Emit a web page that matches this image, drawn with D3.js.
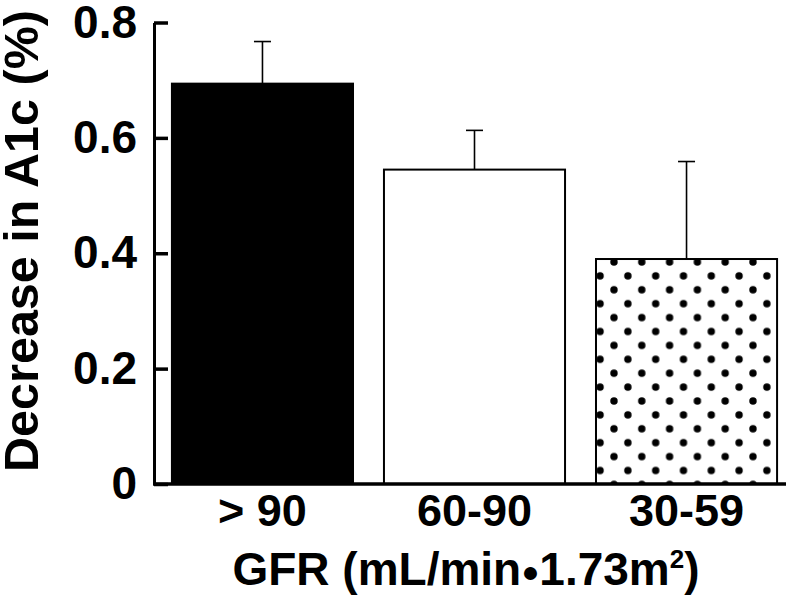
<!DOCTYPE html>
<html>
<head>
<meta charset="utf-8">
<script src="https://cdn.jsdelivr.net/npm/d3@7.9.0/dist/d3.min.js"></script>
<style>
    body { margin: 0; background: #fff; }
    svg { display: block; font-family: "Liberation Sans", Arial, sans-serif; font-weight: bold; }
</style>
</head>
<body>
<div id="chart"></div>
<script>
// Data
const categories = ['> 90', '60-90', '30-59'];
const means = [0.694, 0.545, 0.39];
const errors = [0.073, 0.068, 0.169];
const yTicks = [0, 0.2, 0.4, 0.6, 0.8];

const fills = ['#000', '#fff', 'url(#dots)'];

const width = 800;
const height = 606;

const svg = d3.select('#chart')
    .append('svg')
    .attr('width', width)
    .attr('height', height);

// Dotted fill for the last bar
const pattern = svg.append('defs')
    .append('pattern')
    .attr('id', 'dots')
    .attr('patternUnits', 'userSpaceOnUse')
    .attr('x', 614)
    .attr('y', 262)
    .attr('width', 27.8)
    .attr('height', 27.8);
pattern.append('rect').attr('width', 27.8).attr('height', 27.8).attr('fill', '#fff');
[[0, 0], [27.8, 0], [0, 27.8], [27.8, 27.8], [13.9, 13.9]].forEach(([cx, cy]) => {
    pattern.append('circle').attr('cx', cx).attr('cy', cy).attr('r', 3.7).attr('fill', '#000');
});

// Scales
const x = d3.scaleBand()
    .domain(categories)
    .range([152, 797])
    .paddingInner(0.146)
    .paddingOuter(0.094);

const y = d3.scaleLinear()
    .domain([0, 0.8])
    .range([484, 22.5]);

const rows = categories.map((c, i) => ({ cat: c, mean: means[i], err: errors[i], fill: fills[i] }));

// Bars
svg.append('g')
    .selectAll('rect')
    .data(rows)
    .join('rect')
    .attr('x', (d) => x(d.cat))
    .attr('y', (d) => y(d.mean))
    .attr('width', x.bandwidth())
    .attr('height', (d) => y(0) - y(d.mean))
    .attr('fill', (d) => d.fill)
    .attr('stroke', '#000')
    .attr('stroke-width', 2);

// Error bars (upper only)
const eb = svg.append('g')
    .attr('stroke', '#000')
    .attr('stroke-width', 1.6)
    .selectAll('g')
    .data(rows)
    .join('g')
    .attr('transform', (d) => `translate(${x(d.cat) + x.bandwidth() / 2},0)`);

eb.append('line')
    .attr('y1', (d) => y(d.mean))
    .attr('y2', (d) => y(d.mean + d.err));

eb.append('line')
    .attr('x1', -8.5)
    .attr('x2', 8.5)
    .attr('y1', (d) => y(d.mean + d.err))
    .attr('y2', (d) => y(d.mean + d.err));

// Y axis
const yAxis = svg.append('g')
    .attr('transform', 'translate(154,0)')
    .call(d3.axisLeft(y)
        .tickValues(yTicks)
        .tickSizeInner(-14)
        .tickSizeOuter(0)
        .tickPadding(17)
        .tickFormat((d) => (d === 0 ? '0' : d3.format('.1f')(d))));

yAxis.select('.domain').attr('stroke-width', 3);
yAxis.selectAll('.tick line').attr('stroke-width', 3.5);
yAxis.selectAll('.tick text')
    .attr('font-size', 46)
    .attr('font-family', '"Liberation Sans", Arial, sans-serif')
    .attr('font-weight', 'bold')
    .attr('fill', '#000');

// X axis
const xAxis = svg.append('g')
    .attr('transform', `translate(0,${y(0)})`)
    .call(d3.axisBottom(x).tickSize(0).tickPadding(10));

xAxis.select('.domain').remove();
xAxis.append('line')
    .attr('x1', 153)
    .attr('x2', 786)
    .attr('stroke', '#000')
    .attr('stroke-width', 3.5);
xAxis.selectAll('.tick text')
    .attr('font-size', 45)
    .attr('font-family', '"Liberation Sans", Arial, sans-serif')
    .attr('font-weight', 'bold')
    .attr('fill', '#000');

// Axis titles
const xTitle = svg.append('text')
    .attr('x', 466)
    .attr('y', 585)
    .attr('text-anchor', 'middle')
    .attr('font-size', 46);
xTitle.append('tspan').text('GFR (mL/min');
xTitle.append('tspan').attr('font-size', 30).attr('dy', -3).text('\u25CF');
xTitle.append('tspan').attr('dy', 3).text('1.73m');
xTitle.append('tspan').attr('font-size', 26).attr('dy', -17).text('2');
xTitle.append('tspan').attr('dy', 17).text(')');

svg.append('text')
    .attr('transform', 'translate(38,241) rotate(-90)')
    .attr('text-anchor', 'middle')
    .attr('font-size', 48.5)
    .text('Decrease in A1c (%)');
</script>
</body>
</html>
